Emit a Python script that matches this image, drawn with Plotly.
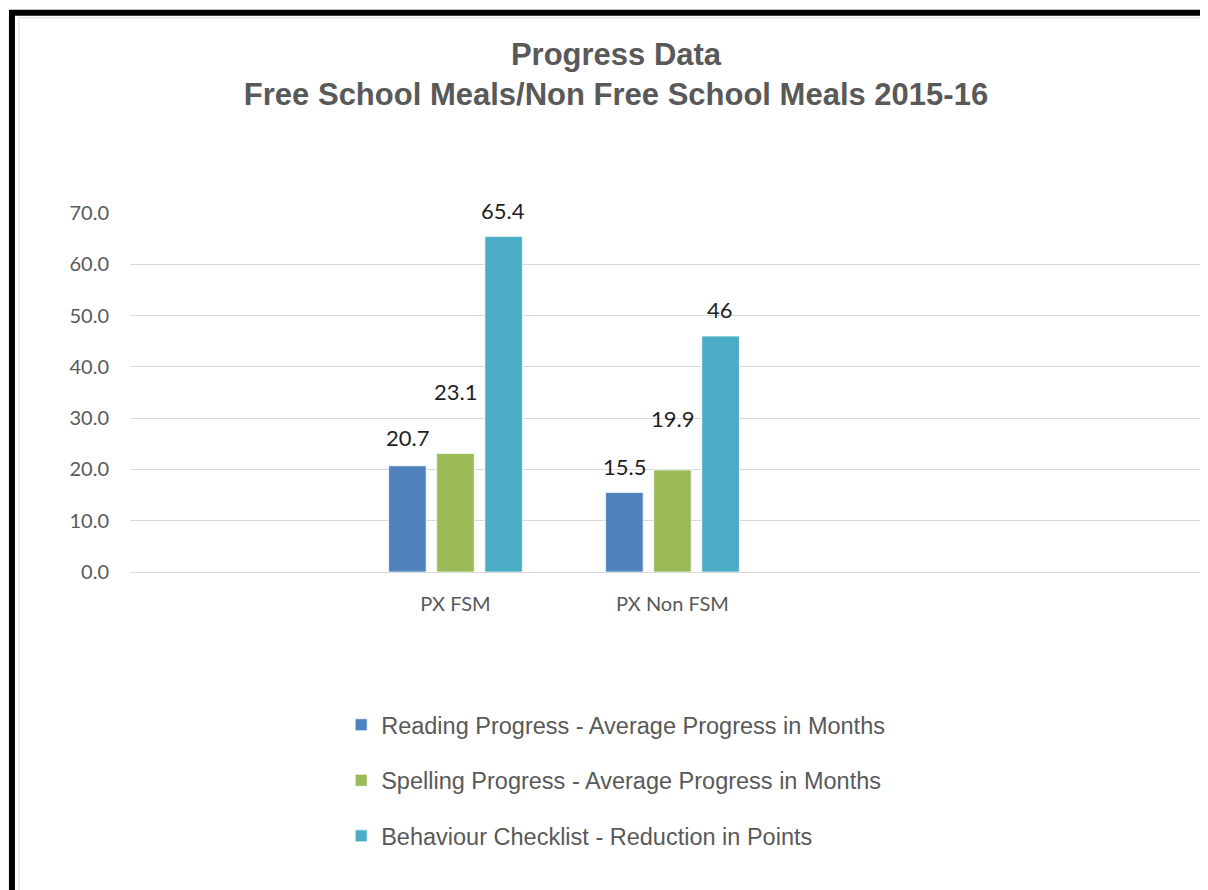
import plotly.graph_objects as go

# ---- data ----
categories = ["PX FSM", "PX Non FSM"]
series_names = [
    "Reading Progress - Average Progress in Months",
    "Spelling Progress - Average Progress in Months",
    "Behaviour Checklist - Reduction in Points",
]
reading = [20.7, 15.5]
spelling = [23.1, 19.9]
behaviour = [65.4, 46]
label_text = [["20.7", "15.5"], ["23.1", "19.9"], ["65.4", "46"]]
y_ticks = [0, 10, 20, 30, 40, 50, 60, 70]

# ---- style ----
colors = ["#4F81BD", "#9BBB59", "#4BACC6"]
label_lift = [[13, 11], [47, 36], [11, 11]]   # pixel lift of each data label above its bar
slot_px = 48                                  # pixel pitch between bars in a group
grey = "#595959"

values = [reading, spelling, behaviour]

fig = go.Figure()
for i, (name, vals) in enumerate(zip(series_names, values)):
    fig.add_trace(go.Bar(
        x=categories, y=vals, name=name,
        marker=dict(color=colors[i], line=dict(color="rgba(255,255,255,0.7)", width=1)),
        legendgroup=f"g{i}",
        hoverinfo="x+y+name",
    ))
    for j, cat in enumerate(categories):
        fig.add_annotation(
            x=cat, y=vals[j], xref="x", yref="y",
            text=label_text[i][j], showarrow=False,
            xanchor="center", yanchor="bottom",
            xshift=(i - 1) * slot_px, yshift=label_lift[i][j],
            font=dict(family="Lato", size=22, color="#1f1f1f"),
        )

fig.update_layout(
    width=1200, height=882,
    margin=dict(l=122, r=0, t=205, b=318),
    paper_bgcolor="white", plot_bgcolor="white",
    barmode="group", bargap=0.335, bargroupgap=0.22,
    title=dict(
        text="Progress Data<br>Free School Meals/Non Free School Meals 2015-16",
        x=608 / 1200, xanchor="center", xref="container",
        y=1 - 57 / 882, yanchor="top", yref="container",
        font=dict(family="Liberation Sans", size=31, color=grey, weight="bold"),
    ),
    xaxis=dict(
        type="category", categoryorder="array", categoryarray=categories,
        range=[-1.5, 3.468], showgrid=False, showline=False, zeroline=False,
        ticks="", ticklabelstandoff=18,
        tickfont=dict(family="Lato", size=20, color=grey),
    ),
    yaxis=dict(
        range=[0, 70], tickvals=y_ticks, tickformat=".1f",
        showgrid=True, gridcolor="#D9D9D9", gridwidth=1,
        zeroline=True, zerolinecolor="#D9D9D9", zerolinewidth=1,
        showline=False, ticks="", ticklabelstandoff=20,
        tickfont=dict(family="Lato", size=20, color=grey),
    ),
    legend=dict(
        orientation="v", x=0.1959, xanchor="left", y=-0.3649, yanchor="top",
        font=dict(family="Liberation Sans", size=23.5, color=grey),
        tracegroupgap=22, traceorder="grouped", bgcolor="rgba(0,0,0,0)",
    ),
    showlegend=True,
    shapes=[
        dict(type="rect", xref="paper", yref="paper",
             x0=-0.1095, x1=1.3, y0=-1.5, y1=1.5576,
             line=dict(color="black", width=6), fillcolor="rgba(0,0,0,0)", layer="above"),
        dict(type="rect", xref="paper", yref="paper",
             x0=-0.1030, x1=1.3, y0=-1.5, y1=1.5436,
             line=dict(color="#D9D9D9", width=1), fillcolor="rgba(0,0,0,0)", layer="below"),
    ],
)

fig.write_html("out.html")
